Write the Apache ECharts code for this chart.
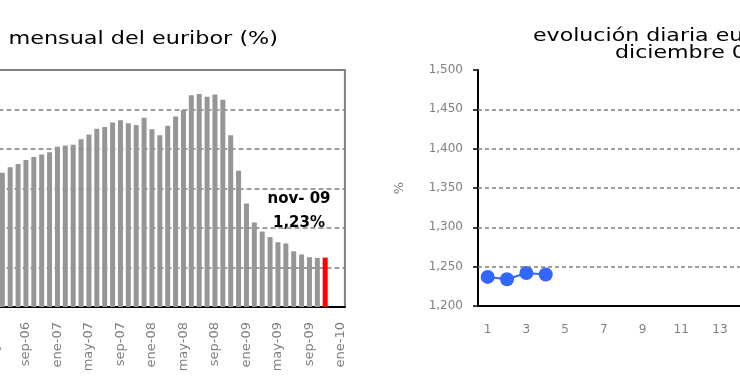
<!DOCTYPE html>
<html><head><meta charset="utf-8">
<script src="https://cdn.jsdelivr.net/npm/echarts@6/dist/echarts.min.js"></script>
<style>html,body{margin:0;padding:0;background:#fff}#c{width:740px;height:389px}</style>
</head><body><div id="c"></div>
<script>
// ---- monthly chart data ----
const months = ['may-06','jun-06','jul-06','ago-06','sep-06','oct-06','nov-06','dic-06',
  'ene-07','feb-07','mar-07','abr-07','may-07','jun-07','jul-07','ago-07','sep-07','oct-07','nov-07','dic-07',
  'ene-08','feb-08','mar-08','abr-08','may-08','jun-08','jul-08','ago-08','sep-08','oct-08','nov-08','dic-08',
  'ene-09','feb-09','mar-09','abr-09','may-09','jun-09','jul-09','ago-09','sep-09','oct-09','nov-09','dic-09',
  'ene-10'];
const monthlyEuribor = [3.31, 3.40, 3.54, 3.62, 3.72, 3.80, 3.86, 3.92,
  4.06, 4.09, 4.11, 4.25, 4.37, 4.51, 4.56, 4.67, 4.73, 4.65, 4.61, 4.79,
  4.50, 4.35, 4.59, 4.82, 4.99, 5.36, 5.39, 5.32, 5.38, 5.25, 4.35, 3.45,
  2.62, 2.14, 1.91, 1.77, 1.64, 1.61, 1.41, 1.33, 1.26, 1.24, 1.25, null,
  null];
const highlightMonth = 'nov-09';
const monthlyTicks = [0, 1, 2, 3, 4, 5, 6];
const annotationLines = ['nov- 09', '1,23%'];

// ---- daily chart data ----
const days = ['1','2','3','4','5','6','7','8','9','10','11','12','13','14','15','16',
  '17','18','19','20','21','22','23','24','25','26','27','28','29','30','31'];
const dailyEuribor = [1.237, 1.234, 1.242, 1.240];
const dailyTicks = [1.20, 1.25, 1.30, 1.35, 1.40, 1.45, 1.50];

const titleLeft = 'evolución mensual del euribor (%)';
const titleRight = ['evolución diaria euribor', 'diciembre 09'];

const FONT = 'DejaVu Sans';
const hi = months.indexOf(highlightMonth);
const barData = monthlyEuribor.map((v, i) => i === hi ? {value: v, itemStyle: {color: '#ff0000'}} : v);
const gridValues = dailyTicks.slice(1, -1);

const chart = echarts.init(document.getElementById('c'), null, {renderer: 'canvas'});
chart.setOption({
  animation: false,
  backgroundColor: '#ffffff',
  grid: [
    {left: -9.5, top: 70, width: 354.4, height: 237, show: true, borderColor: '#808080', borderWidth: 2,
     backgroundColor: '#ffffff', outerBoundsMode: 'none', containLabel: false},
    {left: 478, top: 70, width: 600, height: 236, outerBoundsMode: 'none', containLabel: false}
  ],
  xAxis: [
    {type: 'category', gridIndex: 0, data: months, boundaryGap: true,
     axisLine: {lineStyle: {color: '#000', width: 2}},
     axisTick: {interval: 3, length: 5, lineStyle: {color: '#000', width: 2}},
     axisLabel: {interval: 3, rotate: 90, color: '#808080', fontSize: 13, fontFamily: FONT, margin: 15}},
    {type: 'category', gridIndex: 1, data: days, boundaryGap: true,
     axisLine: {lineStyle: {color: '#000', width: 2}},
     axisTick: {interval: 0, length: 5, lineStyle: {color: '#000', width: 1.5}},
     axisLabel: {interval: 1, color: '#808080', fontSize: 12, fontFamily: FONT, margin: 18}}
  ],
  yAxis: [
    {type: 'value', gridIndex: 0, min: monthlyTicks[0], max: monthlyTicks[monthlyTicks.length - 1], interval: 1,
     axisLabel: {show: false}, axisLine: {show: false}, axisTick: {show: false},
     splitLine: {lineStyle: {color: '#808080', type: [5, 3], width: 1.5}}},
    {type: 'value', gridIndex: 1, min: dailyTicks[0], max: dailyTicks[dailyTicks.length - 1], interval: 0.05,
     name: '%', nameLocation: 'middle', nameRotate: 90, nameGap: 72,
     nameTextStyle: {color: '#808080', fontSize: 13, fontFamily: FONT},
     axisLine: {show: true, lineStyle: {color: '#000', width: 2}},
     axisTick: {show: true, length: 5, lineStyle: {color: '#000', width: 1.5}},
     axisLabel: {color: '#808080', fontSize: 12, fontFamily: FONT, margin: 15,
       formatter: v => v.toFixed(3).replace('.', ',')},
     splitLine: {show: false}}
  ],
  series: [
    {type: 'bar', xAxisIndex: 0, yAxisIndex: 0, data: barData, barWidth: 5,
     itemStyle: {color: '#969696'}},
    {type: 'line', xAxisIndex: 1, yAxisIndex: 1, data: dailyEuribor,
     symbol: 'circle', symbolSize: 14, showAllSymbol: true, itemStyle: {color: '#3366ff'},
     lineStyle: {color: '#3366ff', width: 2},
     markLine: {silent: true, symbol: 'none', label: {show: false},
       lineStyle: {color: '#808080', type: [4, 3], width: 1.5},
       data: gridValues.map(v => ({yAxis: v}))},
     z: 3}
  ],
  graphic: [
    {type: 'text', x: 278, y: 39, scaleX: 1.24, style: {text: titleLeft, fill: '#000', font: '18px "DejaVu Sans"', textAlign: 'right', textVerticalAlign: 'middle'}},
    {type: 'text', x: 533, y: 36.5, scaleX: 1.3, style: {text: titleRight[0], fill: '#000', font: '17px "DejaVu Sans"', textAlign: 'left', textVerticalAlign: 'middle'}},
    {type: 'text', x: 615, y: 53.5, scaleX: 1.3, style: {text: titleRight[1], fill: '#000', font: '17px "DejaVu Sans"', textAlign: 'left', textVerticalAlign: 'middle'}},
    {type: 'text', x: 299, y: 199, style: {text: annotationLines[0], fill: '#000', font: 'bold 15px "DejaVu Sans"', textAlign: 'center', textVerticalAlign: 'middle'}},
    {type: 'text', x: 299, y: 223, style: {text: annotationLines[1], fill: '#000', font: 'bold 15px "DejaVu Sans"', textAlign: 'center', textVerticalAlign: 'middle'}}
  ]
});
</script></body></html>
